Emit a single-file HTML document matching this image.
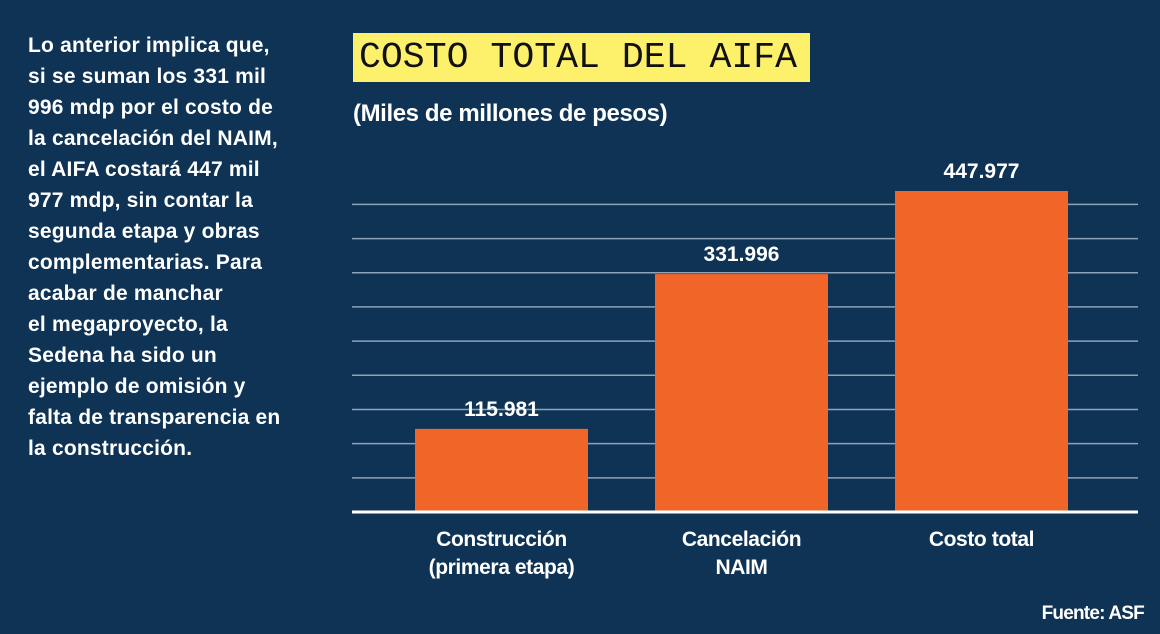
<!DOCTYPE html>
<html><head><meta charset="utf-8"><style>
body{margin:0;width:1160px;height:634px;background:#0f3355;overflow:hidden;position:relative;font-family:"Liberation Sans",sans-serif;color:#fff}
.l{position:absolute;left:28px;font-weight:bold;font-size:21px;letter-spacing:0.2px;white-space:nowrap}
#title{position:absolute;left:353px;top:33px;width:457px;height:49px;background:#fdf06b;color:#111;font-family:"Liberation Mono",monospace;font-size:36.5px;line-height:49px;padding-left:6px;box-sizing:border-box;white-space:nowrap;overflow:hidden}
#sub{position:absolute;left:353px;top:100px;font-weight:bold;font-size:24px;letter-spacing:-0.4px;white-space:nowrap}
#src{position:absolute;right:16px;top:603px;font-weight:bold;font-size:19px;letter-spacing:-0.8px}
</style></head><body>
<div>
<div class="l" style="top:34px">Lo anterior implica que,</div>
<div class="l" style="top:65px">si se suman los 331 mil</div>
<div class="l" style="top:96px">996 mdp por el costo de</div>
<div class="l" style="top:127px">la cancelación del NAIM,</div>
<div class="l" style="top:158px">el AIFA costará 447 mil</div>
<div class="l" style="top:189px">977 mdp, sin contar la</div>
<div class="l" style="top:220px">segunda etapa y obras</div>
<div class="l" style="top:251px">complementarias. Para</div>
<div class="l" style="top:282px">acabar de manchar</div>
<div class="l" style="top:313px">el megaproyecto, la</div>
<div class="l" style="top:344px">Sedena ha sido un</div>
<div class="l" style="top:375px">ejemplo de omisión y</div>
<div class="l" style="top:406px">falta de transparencia en</div>
<div class="l" style="top:437px">la construcción.</div>
</div>
<div id="title">COSTO TOTAL DEL AIFA</div>
<div id="sub">(Miles de millones de pesos)</div>
<svg id="chart" width="1160" height="634" style="position:absolute;left:0;top:0"></svg>
<div id="src">Fuente: ASF</div>
<script>
const categories=[["Construcción","(primera etapa)"],["Cancelación","NAIM"],["Costo total"]];
const values=[115.981,331.996,447.977];
const valueLabels=["115.981","331.996","447.977"];
const gridValues=[47.7,95.4,143.1,190.8,238.5,286.2,333.9,381.6,429.3];
const NS="http://www.w3.org/2000/svg";
const svg=document.getElementById('chart');
const baseY=512,pxPer=321/447.977,left=352,right=1138;
function y(v){return baseY-v*pxPer;}
function xb(i){return 415+i*240;}
const bw=173;
function mk(t,a){const e=document.createElementNS(NS,t);for(const k in a)e.setAttribute(k,a[k]);svg.appendChild(e);return e;}
gridValues.forEach(g=>{
 const l=mk('line',{x1:left,x2:right,y1:y(g),y2:y(g),stroke:'#8ea3b8','stroke-width':1.5});
 
 
});
values.forEach((v,i)=>{
 const r=mk('rect',{x:xb(i),y:y(v),width:bw,height:v*pxPer,fill:'#f26529'});
 
 
 const t=mk('text',{x:xb(i)+bw/2,y:y(v)-13,'text-anchor':'middle',fill:'#fff','font-weight':'bold','font-size':21,'font-family':'Liberation Sans, sans-serif'});
 t.textContent=valueLabels[i];
 
 
 categories[i].forEach((c,j)=>{
  const ct=mk('text',{x:xb(i)+bw/2,y:546+j*28,'text-anchor':'middle',fill:'#fff','font-weight':'bold','font-size':21,'letter-spacing':-0.4,'font-family':'Liberation Sans, sans-serif'});
  ct.textContent=c;
  
  
 });
});
const b=mk('line',{x1:left,x2:right,y1:baseY,y2:baseY,stroke:'#fff','stroke-width':3});


</script>
</body></html>
